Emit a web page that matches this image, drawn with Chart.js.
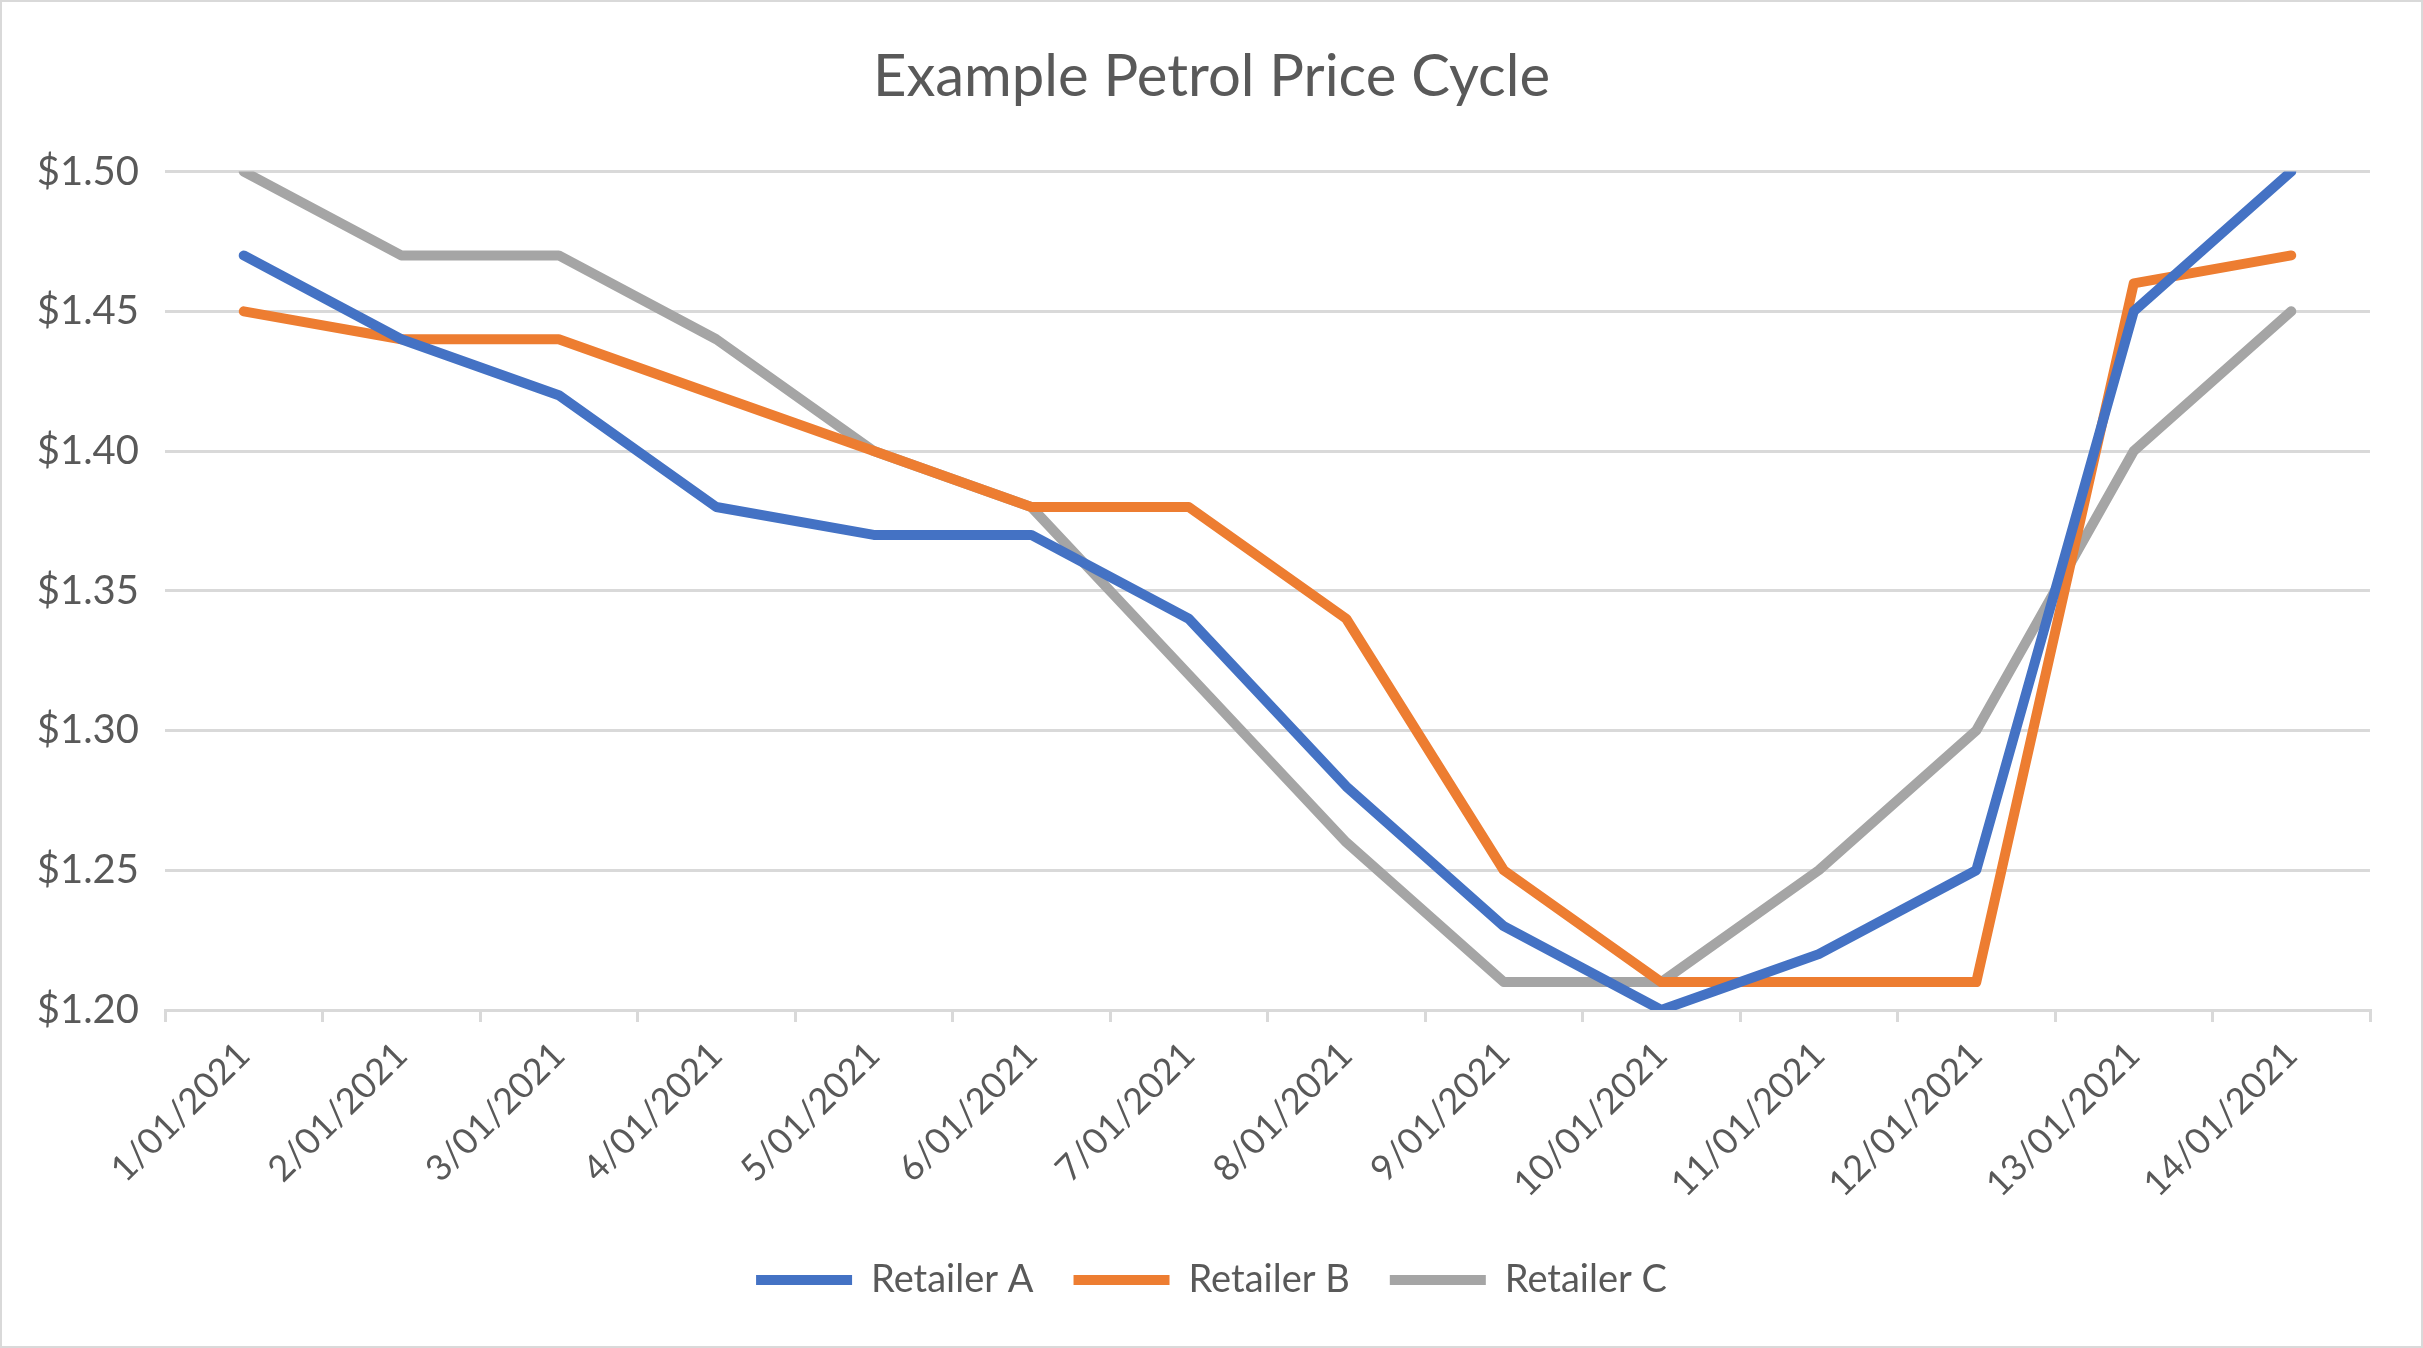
<!DOCTYPE html>
<html>
<head>
<meta charset="utf-8">
<script src="https://cdn.jsdelivr.net/npm/chart.js@4"></script>
<style>
    html, body { margin: 0; padding: 0; background: #fff; }
    #wrap {
        width: 2423px; height: 1348px; box-sizing: border-box;
        border: 2px solid #d9d9d9; position: relative;
    }
    canvas { display: block; }
</style>
</head>
<body>
<div id="wrap"><canvas id="chart"></canvas></div>
<script>
// Chart data
const dates = ['1/01/2021', '2/01/2021', '3/01/2021', '4/01/2021', '5/01/2021', '6/01/2021', '7/01/2021',
    '8/01/2021', '9/01/2021', '10/01/2021', '11/01/2021', '12/01/2021', '13/01/2021', '14/01/2021'];
const retailerA = [1.47, 1.44, 1.42, 1.38, 1.37, 1.37, 1.34, 1.28, 1.23, 1.20, 1.22, 1.25, 1.45, 1.50];
const retailerB = [1.45, 1.44, 1.44, 1.42, 1.40, 1.38, 1.38, 1.34, 1.25, 1.21, 1.21, 1.21, 1.46, 1.47];
const retailerC = [1.50, 1.47, 1.47, 1.44, 1.40, 1.38, 1.32, 1.26, 1.21, 1.21, 1.25, 1.30, 1.40, 1.45];
const yTicks = [1.20, 1.25, 1.30, 1.35, 1.40, 1.45, 1.50];

const textColor = '#595959';
const gridColor = '#d9d9d9';
const fontFamily = 'Lato, "Noto Sans", sans-serif';

function series(label, data, color) {
    return {
        label: label,
        data: data,
        borderColor: color,
        backgroundColor: color,
        borderWidth: 10,
        borderCapStyle: 'round',
        borderJoinStyle: 'round',
        pointRadius: 0,
        pointHoverRadius: 0,
        tension: 0,
        fill: false
    };
}

new Chart(document.getElementById('chart').getContext('2d'), {
    type: 'line',
    data: {
        labels: dates,
        datasets: [
            series('Retailer A', retailerA, '#4472c4'),
            series('Retailer B', retailerB, '#ed7d31'),
            series('Retailer C', retailerC, '#a5a5a5')
        ]
    },
    options: {
        responsive: true,
        maintainAspectRatio: false,
        animation: false,
        devicePixelRatio: 1,
        layout: { padding: { left: 0, right: 0, top: 0, bottom: 37 } },
        plugins: {
            title: {
                display: true,
                text: 'Example Petrol Price Cycle',
                color: textColor,
                font: { family: fontFamily, size: 58, weight: 'normal' },
                padding: { top: 40, bottom: 60 }
            },
            legend: {
                position: 'bottom',
                labels: {
                    color: textColor,
                    font: { family: fontFamily, size: 38 },
                    usePointStyle: true,
                    pointStyle: 'line',
                    pointStyleWidth: 96,
                    padding: 40
                }
            },
            tooltip: { enabled: false }
        },
        scales: {
            x: {
                offset: true,
                grid: {
                    display: true,
                    offset: true,
                    drawOnChartArea: false,
                    drawTicks: true,
                    tickLength: 12,
                    color: gridColor,
                    lineWidth: 3
                },
                border: { display: true, color: gridColor, width: 3 },
                ticks: {
                    color: textColor,
                    font: { family: fontFamily, size: 36 },
                    minRotation: 45,
                    maxRotation: 45,
                    autoSkip: false,
                    padding: 12
                },
                afterFit: scale => { scale.height = 211; }
            },
            y: {
                min: yTicks[0],
                max: yTicks[yTicks.length - 1],
                afterBuildTicks: scale => { scale.ticks = yTicks.map(v => ({ value: v })); },
                grid: { color: gridColor, lineWidth: 3, drawTicks: false },
                border: { display: false },
                ticks: {
                    color: textColor,
                    font: { family: fontFamily, size: 40 },
                    padding: 26,
                    callback: v => '$' + Number(v).toFixed(2)
                },
                afterFit: scale => { scale.width = 163; }
            },
            // empty right-hand axis: only reserves the right margin so title/legend stay centred
            yRight: {
                position: 'right',
                min: yTicks[0],
                max: yTicks[yTicks.length - 1],
                grid: { display: false },
                border: { display: false },
                ticks: { display: false },
                afterFit: scale => { scale.width = 51; }
            }
        }
    }
});
</script>
</body>
</html>
